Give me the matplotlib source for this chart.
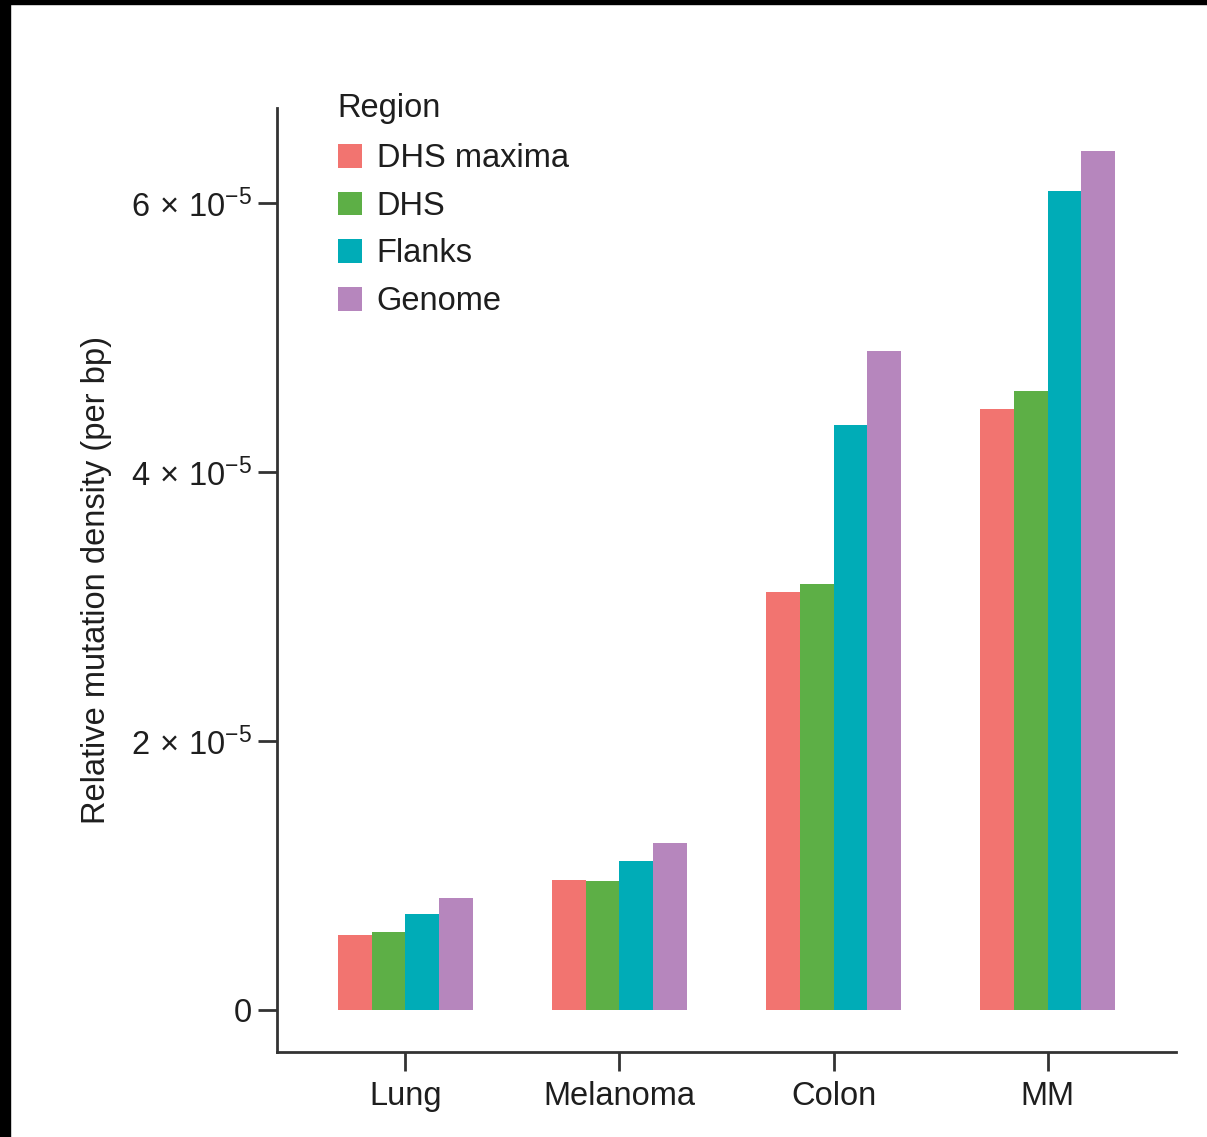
import numpy as np
import matplotlib
matplotlib.use("Agg")
import matplotlib.pyplot as plt
from matplotlib.patches import Rectangle

plt.rcParams['font.family'] = ['Liberation Sans', 'DejaVu Sans']
plt.rcParams['mathtext.fontset'] = 'custom'
plt.rcParams['mathtext.rm'] = 'Liberation Sans'
plt.rcParams['mathtext.it'] = 'Liberation Sans'
plt.rcParams['mathtext.default'] = 'regular'

# mutation density per region (units of 1e-5 per bp)
cancers = ["Lung", "Melanoma", "Colon", "MM"]
regions = ["DHS maxima", "DHS", "Flanks", "Genome"]
dhs_maxima = [0.56, 0.97, 3.11, 4.47]
dhs = [0.58, 0.96, 3.17, 4.60]
flanks = [0.71, 1.11, 4.35, 6.09]
genome = [0.83, 1.24, 4.90, 6.39]
colors = ["#F27470", "#5DAF46", "#00ACB7", "#B686BD"]

yticks = [0, 2e-5, 4e-5, 6e-5]
ytick_labels = ["0", r"$2\,\times\,10^{-5}$", r"$4\,\times\,10^{-5}$",
                r"$6\,\times\,10^{-5}$"]

text_col = "#1e1e1e"
axis_col = "#333333"

fig = plt.figure(figsize=(12.07, 11.37), dpi=100)
ax = fig.add_axes([0.2295, 0.0748, 0.7448, 0.8302])

x = np.arange(1, len(cancers) + 1)
width = 0.158
series = [dhs_maxima, dhs, flanks, genome]
for i, (vals, name, c) in enumerate(zip(series, regions, colors)):
    ax.bar(x + (i - 1.5) * width, np.array(vals) * 1e-5, width,
           color=c, label=name, linewidth=0)

ax.set_xlim(0.40, 4.60)
ax.set_ylim(-0.312e-5, 6.706e-5)

ax.set_xticks(x)
ax.set_xticklabels(cancers)
ax.set_yticks(yticks)
ax.set_yticklabels(ytick_labels)

for s in ["top", "right"]:
    ax.spines[s].set_visible(False)
for s in ["left", "bottom"]:
    ax.spines[s].set_color(axis_col)
    ax.spines[s].set_linewidth(2)

ax.tick_params(axis="both", length=14, width=2, color=axis_col,
               labelsize=23.5, labelcolor=text_col)
ax.tick_params(axis="y", pad=4)
ax.tick_params(axis="x", pad=7)

ax.set_ylabel("Relative mutation density (per bp)", fontsize=23.5,
              color=text_col, labelpad=14)

leg = ax.legend(title="Region", loc="upper left", bbox_to_anchor=(0.053, 1.030),
                frameon=False, fontsize=23.5, title_fontsize=23.5,
                handlelength=0.75, handleheight=0.75, handletextpad=0.45,
                labelspacing=0.51, borderaxespad=0)
leg._legend_box.align = "left"
leg._legend_box.sep = 14
for t in leg.get_texts():
    t.set_color(text_col)
leg.get_title().set_color(text_col)

# dark frame strips along the top and left edge
fig.patches.append(Rectangle((0, 0), 0.0083, 1, transform=fig.transFigure,
                             color="black", zorder=10))
fig.patches.append(Rectangle((0, 0.9965), 1, 0.0035, transform=fig.transFigure,
                             color="black", zorder=10))

fig.savefig("out.png", dpi=100)
